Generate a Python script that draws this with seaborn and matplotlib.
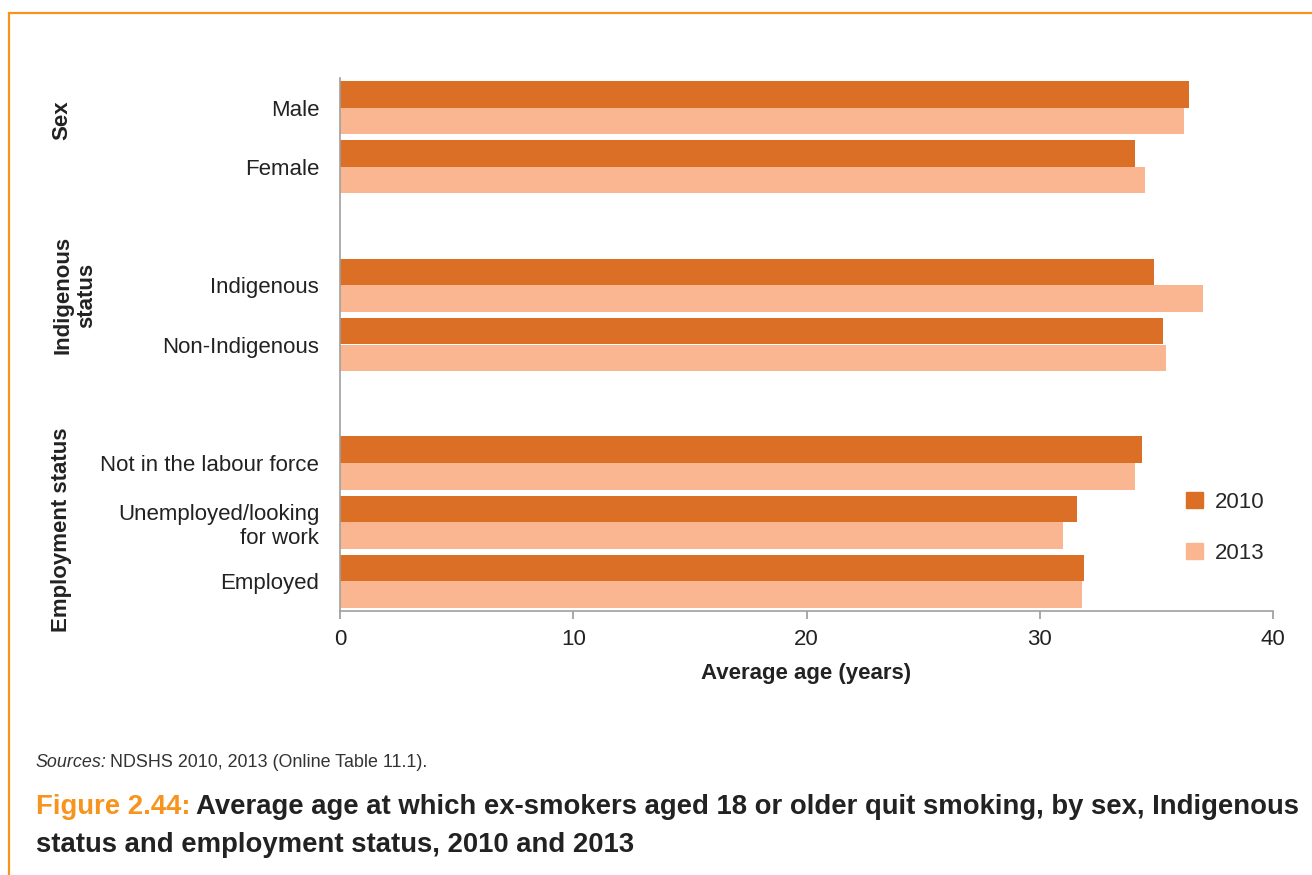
import numpy as np
import pandas as pd
import matplotlib.pyplot as plt
import matplotlib.patches as mpatches
import seaborn as sns

# values
categories = ['Male', 'Female', 'Indigenous', 'Non-Indigenous',
              'Not in the labour force', 'Unemployed/looking\nfor work', 'Employed']
age_2010 = [36.4, 34.1, 34.9, 35.3, 34.4, 31.6, 31.9]
age_2013 = [36.2, 34.5, 37.0, 35.4, 34.1, 31.0, 31.8]
years = ['2010', '2013']
groups = ['Sex', 'Indigenous\nstatus', 'Employment status']

# blank slots separate the three groups
order = ['Male', 'Female', ' ', 'Indigenous', 'Non-Indigenous', '  ',
         'Not in the labour force', 'Unemployed/looking\nfor work', 'Employed']

df = pd.DataFrame({
    'category': categories * 2,
    'year': [years[0]] * len(categories) + [years[1]] * len(categories),
    'age': age_2010 + age_2013,
})

sns.set_style('white')
plt.rcParams['font.family'] = ['Liberation Sans', 'DejaVu Sans']

W, H = 1312, 875
fig = plt.figure(figsize=(W / 100, H / 100), dpi=100)
ax = fig.add_axes([340 / W, 1 - 611 / H, 933 / W, 533 / H])

colors = {'2010': '#DC6F26', '2013': '#F9B690'}
sns.barplot(data=df, x='age', y='category', hue='year', order=order,
            hue_order=years, palette=colors, saturation=1, width=0.9,
            linewidth=0, orient='h', ax=ax)

ax.set_xlim(0, 40)
ax.set_ylim(8.5, -0.5)
ax.set_xticks([0, 10, 20, 30, 40])
ax.tick_params(axis='x', labelsize=16, colors='#9A9A9A', labelcolor='#222222',
               length=6, width=1.2, direction='out', bottom=True, pad=7)
ax.tick_params(axis='y', labelsize=16, length=0, pad=15, labelcolor='#222222')
ax.set_ylabel('')
ax.set_xlabel('Average age (years)', fontsize=16, fontweight='bold', labelpad=9,
              color='#222222')
for side in ['top', 'right']:
    ax.spines[side].set_visible(False)
for side in ['left', 'bottom']:
    ax.spines[side].set_color('#A0A0A0')
    ax.spines[side].set_linewidth(1.2)

# group labels
for label, xc, yc in zip(groups, [62, 75, 62], [120, 295, 530]):
    fig.text(xc / W, 1 - yc / H, label, rotation=90, ha='center', va='center',
             fontsize=16, fontweight='bold', color='#222222', multialignment='center')

handles = [mpatches.Patch(color=colors[y]) for y in years]
ax.legend(handles, years, loc='upper left', frameon=False, fontsize=16,
          bbox_to_anchor=(1166 / W, 1 - 472 / H), bbox_transform=fig.transFigure,
          labelspacing=1.35, handlelength=0.75, handleheight=0.75, handletextpad=0.55)


# footer text, sized to the width it takes in the reference
renderer = fig.canvas.get_renderer()


def fit_width(texts, target):
    width = sum(t.get_window_extent(renderer).width for t in texts)
    for t in texts:
        t.set_fontsize(t.get_fontsize() * target / width)


def follow(prev, s, gap=4, **kw):
    return ax.annotate(s, xy=(1, 0), xycoords=prev, xytext=(gap, 0),
                       textcoords='offset points', va='bottom', ha='left', **kw)


src1 = fig.text(36 / W, 1 - 771 / H, 'Sources:', fontsize=12, style='italic',
                color='#333333', va='bottom')
src2 = follow(src1, 'NDSHS 2010, 2013 (Online Table 11.1).', gap=2.5,
              fontsize=12, color='#333333')
fit_width([src1, src2], 385)

fig1 = fig.text(36 / W, 1 - 820 / H, 'Figure 2.44:', fontsize=18, fontweight='bold',
                color='#F7941D', va='bottom')
fig2 = follow(fig1, 'Average age at which ex-smokers aged 18 or older quit smoking, by sex, Indigenous',
              fontsize=18, fontweight='bold', color='#222222')
fit_width([fig1, fig2], 1262)
line2 = fig.text(36 / W, 1 - 858 / H, 'status and employment status, 2010 and 2013',
                 fontsize=fig1.get_fontsize(), fontweight='bold', color='#222222', va='bottom')

# orange frame, open on the right and bottom
fig.add_artist(mpatches.Rectangle((9 / W, -0.1), 1.2, 1 - 13 / H + 0.1,
                                  transform=fig.transFigure, fill=False,
                                  edgecolor='#F7941D', linewidth=1.6))

fig.savefig('out.png', dpi=100)
